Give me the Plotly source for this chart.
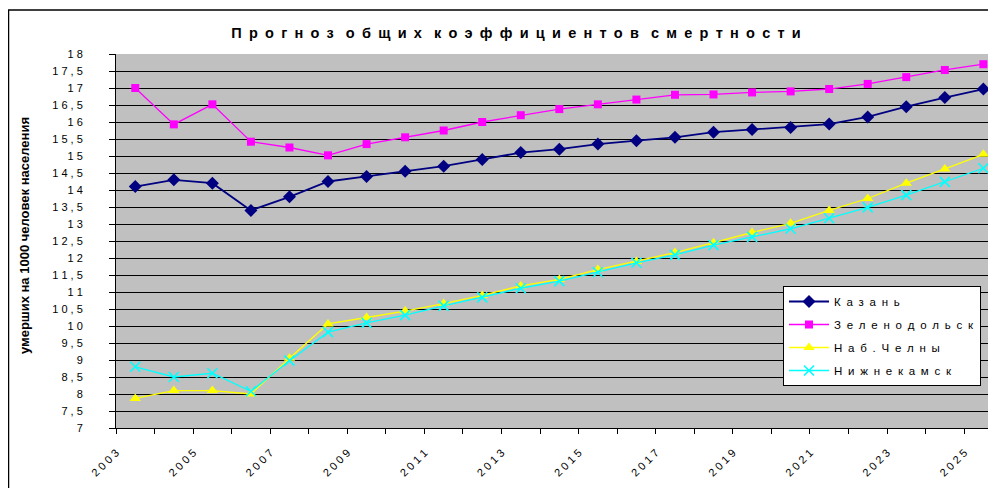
import plotly.graph_objects as go

# ---- data ----
years = [2003, 2004, 2005, 2006, 2007, 2008, 2009, 2010, 2011, 2012, 2013, 2014,
         2015, 2016, 2017, 2018, 2019, 2020, 2021, 2022, 2023, 2024, 2025]

kazan = [14.1, 14.3, 14.2, 13.4, 13.8, 14.25, 14.4, 14.55, 14.7, 14.9, 15.1, 15.2,
         15.35, 15.45, 15.55, 15.7, 15.78, 15.84, 15.94, 16.15, 16.45, 16.72, 16.97]
zelenodolsk = [17.0, 15.93, 16.52, 15.42, 15.25, 15.02, 15.35, 15.55, 15.75, 16.0, 16.2, 16.38,
               16.52, 16.66, 16.8, 16.81, 16.87, 16.9, 16.97, 17.12, 17.32, 17.53, 17.7]
chelny = [7.87, 8.1, 8.1, 8.0, 9.05, 10.06, 10.25, 10.44, 10.66, 10.9, 11.18, 11.37,
          11.66, 11.9, 12.16, 12.45, 12.75, 13.02, 13.4, 13.75, 14.2, 14.62, 15.05]
nizhnekamsk = [8.8, 8.5, 8.61, 8.08, 8.98, 9.82, 10.09, 10.32, 10.59, 10.84, 11.11, 11.32,
               11.58, 11.86, 12.09, 12.38, 12.62, 12.86, 13.17, 13.49, 13.85, 14.24, 14.64]

series_names = ["Казань", "Зеленодольск", "Наб.Челны", "Нижнекамск"]
series_values = [kazan, zelenodolsk, chelny, nizhnekamsk]

x_label_years = [2003, 2005, 2007, 2009, 2011, 2013, 2015, 2017, 2019, 2021, 2023, 2025]
y_tick_values = [7, 7.5, 8, 8.5, 9, 9.5, 10, 10.5, 11, 11.5, 12, 12.5, 13, 13.5,
                 14, 14.5, 15, 15.5, 16, 16.5, 17, 17.5, 18]

title_text = "Прогноз общих коэффициентов смертности"
y_title_text = "умерших на 1000 человек населения"

# ---- styles ----
colors = ["#000080", "#FF00FF", "#FFFF00", "#00FFFF"]
symbols = ["diamond", "square", "triangle-up", "x-thin"]
msizes = [10, 8, 10, 10]
lwidths = [1.8, 1.3, 1.3, 1.3]

FONT = "Arial, 'Liberation Sans', Helvetica, sans-serif"
NB = "\u00a0"


def spaced(s, sep):
    return sep.join(s)


def spaced_title(s):
    return (NB * 3).join("\u2002".join(w) for w in s.split(" "))


def num_label(v):
    t = ("%g" % v).replace(".", ",")
    return spaced(t, NB)


fig = go.Figure()
for i, (name, vals) in enumerate(zip(series_names, series_values)):
    marker = dict(symbol=symbols[i], size=msizes[i], color=colors[i])
    if symbols[i] == "x-thin":
        marker["line"] = dict(color=colors[i], width=1.6)
    fig.add_trace(go.Scatter(
        x=years, y=vals, mode="lines+markers",
        name=spaced(name, "\u2002"),
        legendgroup=name,
        line=dict(color=colors[i], width=lwidths[i]),
        marker=marker,
        cliponaxis=False,
    ))

# the page has an 8px body margin on every side: figure px = page px - 8
OFF = 8
W, H = 996 - 2 * OFF, 488 - OFF
L = 116 - OFF
T = 54 - OFF
plot_bottom = 428 - OFF
B = H - plot_bottom
plot_w = W - L
plot_h = plot_bottom - T
x0 = years[0] - 0.5
x1 = years[-1] + 0.12


def px_x(p):  # page x -> paper
    return (p - OFF - L) / plot_w


def px_y(p):  # page y -> paper
    return (plot_bottom - (p - OFF)) / plot_h


fig.update_layout(
    width=W, height=H,
    margin=dict(l=L, r=0, t=T, b=B, autoexpand=False),
    paper_bgcolor="white",
    plot_bgcolor="#C0C0C0",
    font=dict(family=FONT, color="#000"),
    showlegend=True,
    legend=dict(
        x=px_x(783), y=px_y(286),
        xanchor="left", yanchor="top",
        bgcolor="white", bordercolor="black", borderwidth=1,
        font=dict(size=11.5, family=FONT, color="#000"),
        tracegroupgap=4,
        itemwidth=40,
    ),
    title=dict(
        text="<b>" + spaced_title(title_text) + "</b>",
        x=(516 - OFF) / W, xanchor="center", xref="container",
        y=1 - (33 - OFF) / H, yanchor="middle", yref="container",
        font=dict(size=14.5, family=FONT, color="#000"),
    ),
    xaxis=dict(
        range=[x0, x1],
        tickmode="array",
        tickvals=[y - 0.5 for y in x_label_years],
        ticktext=[spaced(str(y), NB) for y in x_label_years],
        tickangle=-45,
        ticks="outside", ticklen=5, tickcolor="black", tickwidth=1,
        minor=dict(tickmode="linear", tick0=x0, dtick=1, ticks="outside",
                   ticklen=5, tickcolor="black", tickwidth=1, showgrid=False),
        showline=True, linecolor="black", linewidth=1,
        showgrid=False, zeroline=False,
        ticklabelstandoff=8,
        tickfont=dict(size=11, family=FONT, color="#000"),
    ),
    yaxis=dict(
        range=[7, 18],
        tickmode="array",
        tickvals=y_tick_values,
        ticktext=[num_label(v) for v in y_tick_values],
        ticks="outside", ticklen=6, tickcolor="black", tickwidth=1,
        showline=True, linecolor="black", linewidth=1,
        showgrid=True, gridcolor="#000000", gridwidth=1,
        zeroline=False,
        ticklabelstandoff=24,
        tickfont=dict(size=11, family=FONT, color="#000"),
    ),
)

# y axis title
fig.add_annotation(
    text="<b>" + y_title_text + "</b>",
    xref="paper", yref="paper",
    x=px_x(25), y=px_y(236),
    xanchor="center", yanchor="middle",
    textangle=-90, showarrow=False,
    font=dict(size=13, family=FONT, color="#000"),
)

# outer chart border
fig.add_shape(
    type="rect", xref="paper", yref="paper",
    x0=px_x(8.5), x1=1.2,
    y0=-0.5, y1=px_y(10),
    line=dict(color="black", width=1.5), fillcolor="rgba(0,0,0,0)",
    layer="above",
)

fig.write_html("out.html")
